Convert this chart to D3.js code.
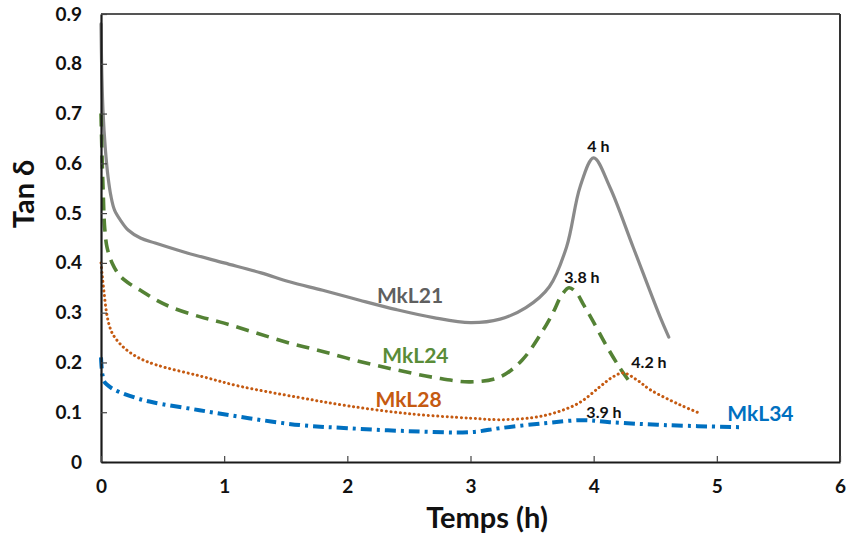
<!DOCTYPE html>
<html><head><meta charset="utf-8">
<script src="https://cdn.jsdelivr.net/npm/d3@7"></script>
<style>body{margin:0;background:#fff;} text{font-family:Lato,"Open Sans",sans-serif;font-weight:bold;}</style>
</head><body>
<svg id="c" width="846" height="537"></svg>
<script>
// ---- data ----
const xTicks = [0,1,2,3,4,5,6];
const yTicks = [0,0.1,0.2,0.3,0.4,0.5,0.6,0.7,0.8,0.9];
const xTickLabels = ["0","1","2","3","4","5","6"];
const yTickLabels = ["0","0.1","0.2","0.3","0.4","0.5","0.6","0.7","0.8","0.9"];

const mkl21X = [0,0.005,0.016,0.035,0.057,0.08,0.11,0.16,0.22,0.32,0.44,0.7,1.0,1.3,1.53,1.8,2.1,2.4,2.7,3.0,3.24,3.45,3.64,3.78,3.89,4.0,4.13,4.32,4.54,4.61];
const mkl21Y = [0.88,0.80,0.707,0.63,0.573,0.535,0.506,0.485,0.466,0.45,0.44,0.42,0.40,0.38,0.362,0.345,0.325,0.306,0.29,0.28,0.287,0.31,0.352,0.432,0.553,0.611,0.553,0.432,0.291,0.251];

const mkl24X = [0,0.008,0.018,0.03,0.05,0.09,0.15,0.22,0.32,0.45,0.58,0.8,1.0,1.25,1.53,1.8,2.1,2.4,2.7,3.0,3.24,3.42,3.59,3.67,3.74,3.8,3.86,3.92,3.99,4.1,4.21,4.28];
const mkl24Y = [0.70,0.62,0.54,0.47,0.43,0.40,0.375,0.36,0.345,0.325,0.31,0.292,0.279,0.26,0.239,0.222,0.202,0.185,0.17,0.161,0.171,0.205,0.265,0.30,0.335,0.35,0.34,0.315,0.285,0.235,0.19,0.165];

const mkl28X = [0,0.01,0.025,0.045,0.07,0.1,0.18,0.3,0.45,0.8,1.13,1.6,2.0,2.5,3.0,3.24,3.5,3.7,3.89,4.05,4.15,4.24,4.35,4.46,4.7,4.86];
const mkl28Y = [0.40,0.375,0.34,0.30,0.272,0.255,0.231,0.21,0.195,0.173,0.152,0.13,0.113,0.097,0.088,0.085,0.089,0.1,0.12,0.151,0.17,0.179,0.165,0.145,0.115,0.098];

const mkl34X = [0,0.005,0.012,0.025,0.05,0.11,0.28,0.42,0.8,1.2,1.62,2.0,2.5,3.0,3.24,3.6,3.91,4.13,4.59,5.19];
const mkl34Y = [0.21,0.19,0.175,0.162,0.155,0.145,0.129,0.12,0.104,0.088,0.074,0.068,0.062,0.06,0.068,0.078,0.084,0.08,0.074,0.07];

const seriesNames = ["MkL21","MkL24","MkL28","MkL34"];
const seriesLabelX = [2.509,2.553,2.497,5.354];
const seriesLabelY = [0.319,0.199,0.110,0.082];

const peakLabels = ["4 h","3.8 h","4.2 h","3.9 h"];
const peakLabelX = [4.039,3.905,4.449,4.084];
const peakLabelY = [0.623,0.360,0.189,0.088];

// ---- chart ----
const svg = d3.select("#c");
const L=101,R=840,T=14,B=462;
const x = d3.scaleLinear().domain([0,6]).range([L,R]);
const y = d3.scaleLinear().domain([0,0.9]).range([B,T]);

const styles = [
  {stroke:"#8a8a8a", width:3.2, dash:null, cap:"round", text:"#5f5f5f"},
  {stroke:"#548235", width:3.6, dash:"13 8", cap:"butt", text:"#5a8c38"},
  {stroke:"#C55A11", width:3, dash:"0.1 4.6", cap:"round", text:"#C55A11"},
  {stroke:"#0070C0", width:4, dash:"11 5 3 5", cap:"butt", text:"#0070C0"}
];
const seriesData = [[mkl21X,mkl21Y],[mkl24X,mkl24Y],[mkl28X,mkl28Y],[mkl34X,mkl34Y]];

// frame top/right
svg.append("line").attr("x1",L).attr("x2",R).attr("y1",T).attr("y2",T).attr("stroke","#555").attr("stroke-width",2);
svg.append("line").attr("x1",R).attr("x2",R).attr("y1",T).attr("y2",B).attr("stroke","#333").attr("stroke-width",2);

const line = d3.line().x(d=>x(d[0])).y(d=>y(d[1])).curve(d3.curveCatmullRom.alpha(0.5));
seriesData.forEach((s,i)=>{
  const pts = s[0].map((v,j)=>[v,s[1][j]]);
  const st = styles[i];
  const p = svg.append("path").datum(pts).attr("d",line).attr("fill","none")
    .attr("stroke",st.stroke).attr("stroke-width",st.width).attr("stroke-linecap",st.cap).attr("stroke-linejoin","round");
  if (st.dash) p.attr("stroke-dasharray",st.dash);
});

// axes
const yAxis = d3.axisLeft(y).tickValues(yTicks).tickFormat((d,i)=>yTickLabels[i]).tickSizeInner(-6).tickSizeOuter(0).tickPadding(19);
const gy = svg.append("g").attr("transform",`translate(${L},0)`).call(yAxis);
gy.select(".domain").attr("stroke","#1a1a1a").attr("stroke-width",2.2);
gy.selectAll(".tick line").attr("stroke","#444").attr("stroke-width",1.2);
gy.selectAll(".tick text").attr("font-size",19).attr("fill","#111").attr("font-family","Lato").attr("font-weight","bold");

const xAxis = d3.axisBottom(x).tickValues(xTicks).tickFormat((d,i)=>xTickLabels[i]).tickSizeInner(-6).tickSizeOuter(0).tickPadding(18);
const gx = svg.append("g").attr("transform",`translate(0,${B})`).call(xAxis);
gx.select(".domain").attr("stroke","#1a1a1a").attr("stroke-width",2.2);
gx.selectAll(".tick line").attr("stroke","#444").attr("stroke-width",1.2);
gx.selectAll(".tick text").attr("font-size",19).attr("fill","#111").attr("font-family","Lato").attr("font-weight","bold");

// axis titles
svg.append("text").attr("x",487).attr("y",528).attr("text-anchor","middle").attr("font-size",29).attr("fill","#111").text("Temps (h)");
svg.append("text").attr("transform","translate(34,194) rotate(-90)").attr("text-anchor","middle").attr("font-size",29).attr("fill","#111").text("Tan δ");

// series labels
seriesNames.forEach((n,i)=>{
  svg.append("text").attr("x",x(seriesLabelX[i])).attr("y",y(seriesLabelY[i])).attr("text-anchor","middle")
    .attr("font-size",21).attr("fill",styles[i].text).text(n);
});
peakLabels.forEach((n,i)=>{
  svg.append("text").attr("x",x(peakLabelX[i])).attr("y",y(peakLabelY[i])).attr("text-anchor","middle")
    .attr("font-size",16).attr("fill","#111").text(n);
});
</script>
</body></html>
